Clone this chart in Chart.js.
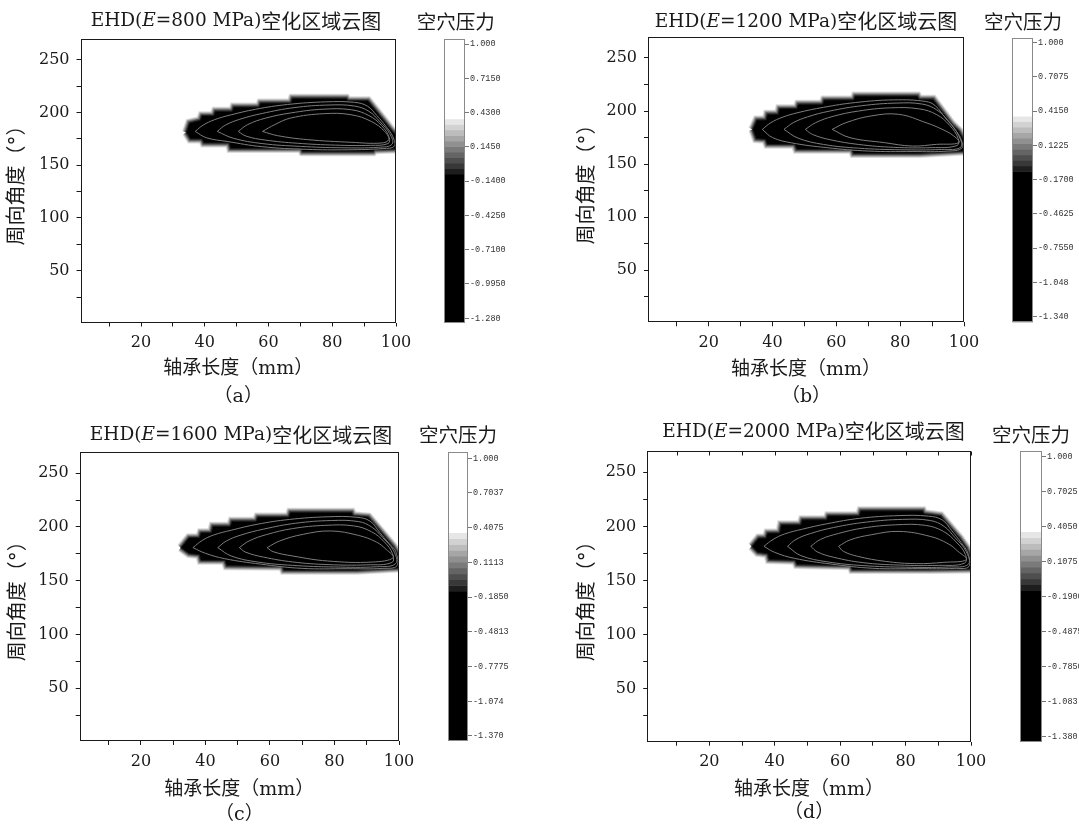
<!DOCTYPE html>
<html lang="zh">
<head>
<meta charset="utf-8">
<title>EHD空化区域云图</title>
<script src="https://cdn.jsdelivr.net/npm/chart.js@4.4.1/dist/chart.umd.min.js"></script>
<style>
  html, body { margin: 0; padding: 0; background: #fff; }
  body { width: 1079px; height: 825px; position: relative; overflow: hidden; }
  canvas { position: absolute; }
</style>
</head>
<body>
<script>
// ---------------------------------------------------------------------------
// data: bearing length x (mm), circumferential angle y (deg)
// ---------------------------------------------------------------------------
const xTicks = [10, 20, 30, 40, 50, 60, 70, 80, 90, 100];
const yTicks = [25, 50, 75, 100, 125, 150, 175, 200, 225, 250];
const moduli = ['800', '1200', '1600', '2000'];
const tags = ['a', 'b', 'c', 'd'];

// edge of the cavitated (black) region, one closed outline per modulus
const outlineA = [[34.2,181.1],[35.2,190.0],[38.6,192.5],[39.1,196.9],[42.8,196.9],[43.3,201.0],[48.6,201.0],[49.1,205.1],[57.0,205.1],[57.5,208.9],[67.0,208.9],[67.5,213.3],[84.4,213.3],[84.9,211.1],[91.2,211.1],[96.4,191.5],[98.6,183.0],[100,178.9],[100,165.4],[93.3,164.7],[92.8,162.8],[70.7,162.8],[70.2,165.7],[48.1,165.7],[47.6,171.1],[39.7,171.1],[39.1,174.8],[35.5,174.8],[34.2,181.1]];
const outlineB = [[33.8,182.7],[35.1,191.5],[38.0,191.5],[38.4,196.9],[41.8,196.9],[42.2,202.2],[47.6,202.2],[48.1,206.3],[55.7,206.3],[56.2,210.4],[65.4,210.4],[65.9,214.1],[85.4,214.1],[85.9,211.0],[90.3,211.0],[96.2,187.4],[98.4,181.2],[99.8,173.3],[100,162.3],[86.0,160.1],[65.4,160.1],[64.9,163.9],[47.6,163.9],[47.0,168.6],[38.4,168.6],[37.8,173.3],[34.9,173.9],[33.8,182.7]];
const outlineC = [[32.4,180.8],[34.9,190.1],[38.1,190.1],[38.6,194.7],[41.8,194.7],[42.3,200.6],[47.7,200.6],[48.2,205.3],[55.7,205.3],[56.2,209.3],[65.8,209.3],[66.3,213.6],[85.3,213.6],[85.8,210.5],[90.5,209.3],[96.0,189.8],[98.2,182.0],[99.8,174.3],[100,161.9],[86.9,159.7],[64.3,159.7],[63.8,163.4],[46.6,164.0],[46.0,169.0],[38.6,169.0],[38.1,174.3],[34.9,175.2],[32.4,180.8]];
const outlineD = [[33.0,181.6],[35.1,189.2],[37.3,189.2],[37.8,193.9],[41.5,193.9],[42.0,201.5],[47.9,201.5],[48.4,206.1],[55.8,206.1],[56.3,209.8],[65.8,209.8],[66.3,214.4],[85.2,214.4],[85.6,211.7],[90.7,209.8],[96.5,189.2],[98.6,180.0],[99.7,172.4],[100,160.7],[86.7,160.1],[63.7,160.1],[63.2,163.7],[46.8,164.7],[46.2,168.7],[38.3,169.3],[37.8,174.8],[34.8,176.0],[33.0,181.6]];

// iso-pressure lines inside the region, outermost first
const loopsA = [
  [[37.0,182],[39.5,188],[43,193],[48,197.5],[56,203],[66,207.5],[78,210],[87,209.5],[91,206],[94,197],[96.8,187],[99,177],[99.5,168],[96,165.8],[85,164.6],[72,165],[58,167.5],[47,172.5],[40.5,176],[37.0,182]],
  [[43.9,182],[46.5,188],[51,193.5],[58,199],[68,204.5],[79,207],[87,206],[91.5,201],[95,191],[98,180],[98.8,170],[94.5,167],[83,166.5],[70,167.8],[58,170.5],[49,175.5],[43.9,182]],
  [[50.5,182],[53.5,188.5],[59,194.5],[67,199.5],[77,203],[86,202.5],[91.5,197],[95.5,187.5],[97.9,176],[97.5,170.5],[92,168.8],[81,169],[69,170.8],[59,173.8],[53,177.5],[50.5,182]],
  [[58.1,182],[62,188.5],[67,194.7],[77.5,198.8],[85.9,197.8],[92.2,191.5],[96.4,182.1],[97.7,174.2],[95.4,171],[85.9,171.7],[72.3,174.2],[62.8,178],[58.1,182]]
];
const loopsB = [
  [[36.8,182.7],[39.5,189],[43,194],[48,198.5],[56,203.5],[66,208],[78,210.5],[88,209],[91,205],[94,194],[96.8,184],[99,174],[99.3,165],[95,162.3],[84,161.8],[70,162.3],[57,165.5],[46,170],[40,175],[36.8,182.7]],
  [[43.6,182.7],[46.5,189],[51,194.5],[58,200],[68,205],[79,207.5],[87,206.5],[91.5,201],[95,191],[98.3,177],[99,166],[93,163.8],[80,163.5],[67,165],[56,168.5],[48,174.5],[43.6,182.7]],
  [[50.3,182.7],[53.5,189],[59,195],[67,200],[77,203],[86,202],[91.5,196.5],[95.5,186.5],[98.2,174],[97.8,167.5],[90,165.5],[78,165.8],[67,168.5],[58,173],[52.5,178],[50.3,182.7]],
  [[58.7,182.7],[63,189],[70.8,195.3],[79.5,196.9],[88.1,189],[93,183],[96.8,176.5],[98.4,170.2],[91.4,168.6],[83.8,167],[75.1,170.2],[64.3,174.9],[58.7,182.7]]
];
const loopsC = [
  [[36.1,180.8],[39,187.5],[42.5,192.5],[48,197],[56,202.5],[66,207],[78,209.5],[87,209],[91,205.5],[94,195],[96.8,185],[99,177],[99.4,164],[95,161.5],[84,161.2],[70,161.5],[57,165.5],[46,170.5],[40,175.5],[36.1,180.8]],
  [[43.8,180.8],[46.5,187],[51,192.5],[58,198],[68,203.5],[79,206],[87.5,205],[91.5,200],[95,190],[98.3,178],[99,166],[93,163],[80,162.8],[67,164.3],[56,167.5],[48,173],[43.8,180.8]],
  [[50.5,180.8],[53.5,187],[59,193],[67,198.5],[77,201.5],[86,201],[91.5,195.5],[95.5,186],[98,175],[97.8,167],[90,164.8],[78,165],[67,167.5],[58,172],[52.5,176.5],[50.5,180.8]],
  [[59.1,180.8],[63,187],[70.3,193.2],[78.8,196.3],[87.4,192.2],[93,186],[96,179.2],[98.2,171.5],[91.8,167.4],[77.8,168.4],[67.1,173],[61,177],[59.1,180.8]]
];
const loopsD = [
  [[36.7,181.6],[39.5,188],[43,193],[48.5,197.5],[56,202.5],[66,207.5],[78,210],[87,209.5],[91.2,206],[94,196.5],[97,185],[99.1,175],[99.4,163],[95,161.2],[84,161],[70,161.3],[57,165.3],[46,170.5],[40,176],[36.7,181.6]],
  [[43.9,181.6],[46.5,188],[51,193.5],[58,199],[68,204],[79,206.5],[87.5,205.5],[91.8,200],[95,190],[98.5,177],[99.2,165],[93,162.5],[80,162.3],[67,163.8],[56,167.3],[48,173],[43.9,181.6]],
  [[51,181.6],[54,188],[59.5,193.5],[67,198.5],[77,201.5],[86,201],[91.5,195.5],[95.5,185.5],[98.3,174],[98,166],[90,164],[78,164.3],[67,166.5],[58,171.5],[53,176.5],[51,181.6]],
  [[59.5,181.6],[63,187.5],[69.5,192.3],[78,195.4],[87.5,190.8],[93,184],[96,177],[98.6,169.3],[91.7,166.8],[83.3,165.6],[73.8,167.7],[65.3,172.4],[61,177],[59.5,181.6]]
];

// colour-scale levels (cavitation pressure) and their printed labels
const levelsA = [1.000, 0.7150, 0.4300, 0.1450, -0.1400, -0.4250, -0.7100, -0.9950, -1.280];
const levelsB = [1.000, 0.7075, 0.4150, 0.1225, -0.1700, -0.4625, -0.7550, -1.0475, -1.340];
const levelsC = [1.000, 0.70375, 0.4075, 0.11125, -0.1850, -0.48125, -0.7775, -1.07375, -1.370];
const levelsD = [1.000, 0.7025, 0.4050, 0.1075, -0.1900, -0.4875, -0.7850, -1.0825, -1.380];
const labelsA = ['1.000', '0.7150', '0.4300', '0.1450', '-0.1400', '-0.4250', '-0.7100', '-0.9950', '-1.280'];
const labelsB = ['1.000', '0.7075', '0.4150', '0.1225', '-0.1700', '-0.4625', '-0.7550', '-1.048', '-1.340'];
const labelsC = ['1.000', '0.7037', '0.4075', '0.1113', '-0.1850', '-0.4813', '-0.7775', '-1.074', '-1.370'];
const labelsD = ['1.000', '0.7025', '0.4050', '0.1075', '-0.1900', '-0.4875', '-0.7850', '-1.083', '-1.380'];

// band edges of the colour scale: white above the first, black below the last
const bandsA = [0.377, 0.331, 0.285, 0.239, 0.193, 0.148, 0.102, 0.056, 0.010, -0.036, -0.082];
const bandsB = [0.373, 0.326, 0.278, 0.231, 0.184, 0.137, 0.089, 0.042, -0.005, -0.053, -0.100];
const bandsC = [0.364, 0.314, 0.264, 0.214, 0.164, 0.114, 0.064, 0.014, -0.036, -0.086, -0.136];
const bandsD = [0.362, 0.312, 0.262, 0.212, 0.162, 0.112, 0.062, 0.012, -0.038, -0.088, -0.139];
// full extent of each colour scale [min, max]
const rangeA = [-1.317, 1.042];
const rangeB = [-1.388, 1.043];
const rangeC = [-1.413, 1.051];
const rangeD = [-1.422, 1.051];

const outlines = [outlineA, outlineB, outlineC, outlineD];
const loops = [loopsA, loopsB, loopsC, loopsD];
const levels = [levelsA, levelsB, levelsC, levelsD];
const levelLabels = [labelsA, labelsB, labelsC, labelsD];
const bands = [bandsA, bandsB, bandsC, bandsD];
const ranges = [rangeA, rangeB, rangeC, rangeD];

// ---------------------------------------------------------------------------
// styles and page layout (px)
// ---------------------------------------------------------------------------
const grays = ['#e6e6e6', '#d2d2d2', '#bcbcbc', '#a6a6a6', '#909090', '#7a7a7a', '#646464', '#4e4e4e', '#383838', '#1e1e1e'];
const halo = [['#1a1a1a', 1], ['#444444', 3], ['#7a7a7a', 5], ['#adadad', 7], ['#dcdcdc', 9]];
const SERIF = "'DejaVu Serif', 'Noto Sans CJK SC'";
const CJK = "'Noto Sans CJK SC'";
const INK = '#1a1a1a';

const layout = [
  { top: 0,   height: 412, plot: [80.5, 38.5, 395.5, 322.5], bar: [444.3, 39, 465, 322.7],
    title: [236, 21.5], barTitle: [455.7, 21.7], yTitleX: 18, xTitleY: [369, 396.7] },
  { top: 0,   height: 412, plot: [648, 36.7, 964, 322.3], bar: [1012.4, 37.7, 1033.1, 322.3],
    title: [806, 21.7], barTitle: [1023, 21.7], yTitleX: 588, xTitleY: [370, 396.7] },
  { top: 412, height: 420, plot: [79.7, 451.7, 399.3, 741], bar: [448.3, 452.3, 468.3, 741],
    title: [241, 435], barTitle: [458, 435], yTitleX: 19, xTitleY: [790, 815] },
  { top: 412, height: 420, plot: [647.2, 450.7, 971, 741.7], bar: [1020.3, 450.7, 1041.7, 741.7],
    title: [813.6, 431.7], barTitle: [1031, 435], yTitleX: 588, xTitleY: [790, 813], topTicks: true }
];

// box around the plotting area (+ optional inward ticks on the top edge)
const frame = {
  id: 'frame',
  afterDatasetsDraw(chart, args, opts) {
    const { ctx, chartArea: a } = chart;
    const l = Math.round(a.left) + 0.5, t = Math.round(a.top) + 0.5;
    const r = Math.round(a.right) - 0.5, b = Math.round(a.bottom) - 0.5;
    ctx.save();
    ctx.strokeStyle = opts.color;
    ctx.lineWidth = 1;
    ctx.strokeRect(l, t, r - l, b - t);
    if (opts.topTicks) {
      const xs = chart.scales.x;
      ctx.beginPath();
      xs.ticks.forEach(tk => {
        const px = Math.round(xs.getPixelForValue(tk.value)) + 0.5;
        ctx.moveTo(px, t);
        ctx.lineTo(px, t + 4);
      });
      ctx.stroke();
    }
    ctx.restore();
  }
};

// centred captions made of runs with their own fonts (italic E etc.)
const captions = {
  id: 'captions',
  afterDraw(chart, args, opts) {
    const ctx = chart.ctx;
    ctx.save();
    ctx.textBaseline = 'middle';
    ctx.textAlign = 'left';
    ctx.fillStyle = INK;
    (opts.items || []).forEach(item => {
      let w = 0;
      item.runs.forEach(([text, font]) => { ctx.font = font; w += ctx.measureText(text).width; });
      let x = item.x - w / 2;
      item.runs.forEach(([text, font]) => {
        ctx.font = font;
        ctx.fillText(text, x, item.y);
        x += ctx.measureText(text).width;
      });
    });
    ctx.restore();
  }
};

function makeCanvas(left, top, w, h) {
  const c = document.createElement('canvas');
  c.width = Math.round(w);
  c.height = Math.round(h);
  c.style.left = left + 'px';
  c.style.top = top + 'px';
  document.body.appendChild(c);
  return c;
}

const pts = arr => arr.map(([x, y]) => ({ x, y }));

function contourChart(i) {
  const L = layout[i];
  const [pl, pt, pr, pb] = L.plot;
  const left = Math.floor(pl - 80);
  const width = pr + 25 - left;
  const bottom = L.top + L.height;
  const gap = L.xTitleY[1] - L.xTitleY[0];
  const canvas = makeCanvas(left, L.top, width, L.height);

  const datasets = [];
  loops[i].forEach(loop => datasets.push({
    data: pts(loop), borderColor: '#7c7c7c', borderWidth: 1, tension: 0.4,
    pointRadius: 0, fill: false, clip: 0
  }));
  datasets.push({
    data: pts(outlines[i]), borderColor: halo[0][0], borderWidth: halo[0][1],
    backgroundColor: '#000', fill: 'shape', pointRadius: 0, tension: 0, clip: 0
  });
  halo.slice(1).forEach(([color, w]) => datasets.push({
    data: pts(outlines[i]), borderColor: color, borderWidth: w,
    fill: false, pointRadius: 0, tension: 0, clip: 0
  }));

  const latin = "18.5px 'DejaVu Serif'";
  new Chart(canvas, {
    type: 'line',
    data: { datasets },
    plugins: [frame, captions],
    options: {
      responsive: false, animation: false, events: [], devicePixelRatio: 1,
      layout: { padding: { left: 0, top: pt - L.top, right: width - (pr - left), bottom: 0 } },
      plugins: {
        legend: { display: false },
        tooltip: { enabled: false },
        frame: { color: INK, topTicks: !!L.topTicks },
        captions: {
          items: [{
            x: L.title[0] - left, y: L.title[1] - L.top,
            runs: [
              ['EHD(', latin],
              ['E', "italic 18.5px 'DejaVu Serif'"],
              ['=' + moduli[i] + ' MPa)', latin],
              ['空化区域云图', '20px ' + CJK]
            ]
          }]
        }
      },
      scales: {
        x: {
          type: 'linear', min: 1, max: 100,
          afterBuildTicks: s => { s.ticks = xTicks.map(v => ({ value: v })); },
          afterFit: s => { s.height = bottom - pb; },
          ticks: {
            autoSkip: false, maxRotation: 0, padding: 7, color: INK,
            font: { family: 'DejaVu Serif', size: 16 },
            callback: v => (v % 20 === 0 ? String(v) : '')
          },
          grid: { drawOnChartArea: false, tickLength: 4, color: INK },
          border: { display: false },
          title: {
            display: true, color: INK,
            text: ['轴承长度（mm）', '（' + tags[i] + '）'],
            font: { family: SERIF, size: 19, lineHeight: gap / 19 },
            padding: { top: 0, bottom: bottom - L.xTitleY[1] - gap / 2 }
          }
        },
        y: {
          type: 'linear', min: 1, max: 270,
          afterBuildTicks: s => { s.ticks = yTicks.map(v => ({ value: v })); },
          afterFit: s => { s.width = pl - left; },
          ticks: {
            autoSkip: false, padding: 7, color: INK,
            font: { family: 'DejaVu Serif', size: 16 },
            callback: v => (v % 50 === 0 ? String(v) : '')
          },
          grid: { drawOnChartArea: false, tickLength: 4, color: INK },
          border: { display: false },
          title: {
            display: true, color: INK, text: '周向角度（°）',
            font: { family: SERIF, size: 20, lineHeight: 1.2 },
            padding: { top: L.yTitleX - left - 12, bottom: 0 }
          }
        }
      }
    }
  });
}

function colorbarChart(i) {
  const L = layout[i];
  const [bl, bt, br, bb] = L.bar;
  const left = Math.floor(bl - 45);
  const width = br + 48 - left;
  const canvas = makeCanvas(left, L.top, width, L.height);
  const edges = bands[i];
  const [lo, hi] = ranges[i];

  const strips = [[edges[0], hi, '#ffffff']];
  grays.forEach((c, k) => strips.push([edges[k + 1], edges[k], c]));
  strips.push([lo, edges[edges.length - 1], '#000000']);

  new Chart(canvas, {
    type: 'bar',
    data: {
      labels: [''],
      datasets: strips.map(([a, b, c]) => ({
        data: [[a, b]], backgroundColor: c, borderWidth: 0,
        grouped: false, barPercentage: 1, categoryPercentage: 1
      }))
    },
    plugins: [frame, captions],
    options: {
      responsive: false, animation: false, events: [], devicePixelRatio: 1,
      layout: { padding: { left: bl - left, top: bt - L.top, right: 0, bottom: L.top + L.height - bb } },
      plugins: {
        legend: { display: false },
        tooltip: { enabled: false },
        frame: { color: '#8a8a8a' },
        captions: {
          items: [{ x: L.barTitle[0] - left, y: L.barTitle[1] - L.top, runs: [['空穴压力', '19.5px ' + CJK]] }]
        }
      },
      scales: {
        x: { display: false },
        y: {
          position: 'right', min: lo, max: hi,
          afterBuildTicks: s => { s.ticks = levels[i].map(v => ({ value: v })); },
          afterFit: s => { s.width = width - (br - left); },
          ticks: {
            autoSkip: false, padding: 1, color: '#333',
            font: { family: 'Liberation Mono', size: 8.5 },
            callback: (v, k) => levelLabels[i][k]
          },
          grid: { drawOnChartArea: false, tickLength: 4, color: '#777' },
          border: { display: false }
        }
      }
    }
  });
}

for (let i = 0; i < 4; i++) {
  contourChart(i);
  colorbarChart(i);
}
</script>
</body>
</html>
